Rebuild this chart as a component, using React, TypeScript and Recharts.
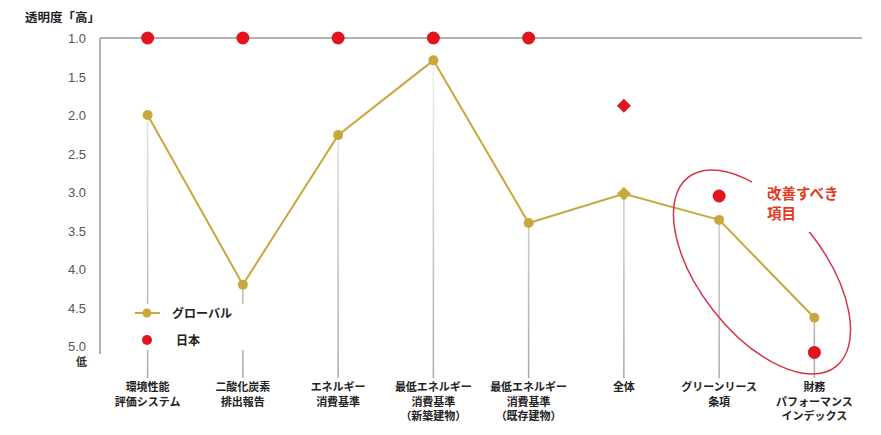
import { Line, LineChart, ReferenceLine, XAxis, YAxis } from "recharts";

const categories = [
    "環境性能\n評価システム",
    "二酸化炭素\n排出報告",
    "エネルギー\n消費基準",
    "最低エネルギー\n消費基準\n（新築建物）",
    "最低エネルギー\n消費基準\n（既存建物）",
    "全体",
    "グリーンリース\n条項",
    "財務\nパフォーマンス\nインデックス",
];
const globalScores = [2.0, 4.2, 2.26, 1.29, 3.4, 3.02, 3.36, 4.63];
const japanScores = [1.0, 1.0, 1.0, 1.0, 1.0, 1.88, 3.05, 5.08];
const yTicks = [1.0, 1.5, 2.0, 2.5, 3.0, 3.5, 4.0, 4.5, 5.0];
const overallIndex = 5;

const W = 865;
const H = 427;
const MARGIN = { top: 30, right: 11, bottom: 11, left: 32 };
const Y_AXIS_W = 60;
const X_AXIS_H = 70;
const PLOT_BOTTOM = H - MARGIN.bottom - X_AXIS_H;
const DROP_END = PLOT_BOTTOM + 24;
// half of one category slot, so points sit in the middle of each slot
const HALF_SLOT = (W - MARGIN.left - MARGIN.right - Y_AXIS_W) / categories.length / 2;

const GOLD = "#c8a83e";
const RED = "#e2141d";
const JP_FONT = "'Noto Sans CJK JP', sans-serif";

const data = categories.map((name, i) => ({
    name,
    global: globalScores[i],
    japan: japanScores[i],
}));

const GlobalDot = (props: any) => {
    const { cx, cy, index } = props;
    return (
        <g key={`gd-${index}`}>
            <line x1={cx} x2={cx} y1={cy + 5} y2={DROP_END} stroke="url(#dropFade)" strokeWidth={1.5} />
            {index === overallIndex ? (
                <polygon
                    points={`${cx},${cy - 7} ${cx + 7},${cy} ${cx},${cy + 7} ${cx - 7},${cy}`}
                    fill={GOLD}
                />
            ) : (
                <circle cx={cx} cy={cy} r={5} fill={GOLD} />
            )}
        </g>
    );
};

const JapanDot = (props: any) => {
    const { cx, cy, index } = props;
    if (index === overallIndex) {
        return (
            <polygon
                key={`jd-${index}`}
                points={`${cx},${cy - 7} ${cx + 7},${cy} ${cx},${cy + 7} ${cx - 7},${cy}`}
                fill={RED}
            />
        );
    }
    return <circle key={`jd-${index}`} cx={cx} cy={cy} r={6.5} fill={RED} />;
};

const YTick = (props: any) => {
    const { x, y, payload } = props;
    const v = payload.value as number;
    return (
        <g>
            <text x={x} y={y} dy={5} textAnchor="end" fontSize={13} fill="#555"
                fontFamily="'Liberation Sans', Arial, sans-serif">
                {v.toFixed(1)}
            </text>
            {v === 5 && (
                <text x={x + 1} y={y} dy={20} textAnchor="end" fontSize={11} fontWeight="bold"
                    fill="#333" fontFamily={JP_FONT}>
                    低
                </text>
            )}
        </g>
    );
};

const CatTick = (props: any) => {
    const { x, payload } = props;
    const lines = String(payload.value).split("\n");
    return (
        <g>
            {lines.map((t, i) => (
                <text key={i} x={x} y={PLOT_BOTTOM + 37 + i * 14.5} textAnchor="middle"
                    fontSize={11} fontWeight="bold" fill="#222" fontFamily={JP_FONT}>
                    {t}
                </text>
            ))}
        </g>
    );
};

export default function App() {
    return (
        <div style={{ position: "relative", width: W, height: H }}>
            <LineChart width={W} height={H} data={data} margin={MARGIN}>
                <defs>
                    <linearGradient id="dropFade" gradientUnits="userSpaceOnUse" x1="0" y1="60" x2="0" y2={DROP_END}>
                        <stop offset="0%" stopColor="#eeeeee" />
                        <stop offset="100%" stopColor="#a9a9a9" />
                    </linearGradient>
                </defs>
                <XAxis dataKey="name" interval={0} axisLine={false} tickLine={false}
                    padding={{ left: HALF_SLOT, right: HALF_SLOT }}
                    height={X_AXIS_H} tick={<CatTick />} />
                <YAxis type="number" domain={[1, 5.1]} reversed ticks={yTicks} interval={0}
                    width={Y_AXIS_W} tickLine={false} tickSize={6} tickMargin={8}
                    axisLine={{ stroke: "#999", strokeWidth: 1.5 }} tick={<YTick />} />
                <ReferenceLine y={1} stroke="#999" strokeWidth={1.5} />
                <Line dataKey="global" stroke={GOLD} strokeWidth={2} dot={GlobalDot}
                    activeDot={false} isAnimationActive={false} />
                <Line dataKey="japan" stroke="none" dot={JapanDot}
                    activeDot={false} isAnimationActive={false} />
            </LineChart>
            <svg width={W} height={H} style={{ position: "absolute", left: 0, top: 0, pointerEvents: "none" }}>
                <text x={17} y={14} fontSize={12.5} fontWeight="bold" fill="#222" fontFamily={JP_FONT}>
                    透明度「高」
                </text>
                {/* legend */}
                <rect x={122} y={296} width={126} height={46} fill="#fff" />
                <line x1={127} x2={152} y1={305} y2={305} stroke={GOLD} strokeWidth={2} />
                <circle cx={139} cy={305} r={4.5} fill={GOLD} />
                <text x={164} y={309.5} fontSize={12} fontWeight="bold" fill="#222" fontFamily={JP_FONT}>
                    グローバル
                </text>
                <circle cx={139} cy={332} r={5} fill={RED} />
                <text x={168} y={336.5} fontSize={12} fontWeight="bold" fill="#222" fontFamily={JP_FONT}>
                    日本
                </text>
                {/* annotation */}
                <ellipse cx={754} cy={264} rx={120} ry={62} transform="rotate(52 754 264)"
                    fill="none" stroke="#d6344c" strokeWidth={1.5} />
                <rect x={744} y={160} width={62} height={64} fill="#fff" />
                <text x={759} y={191} fontSize={14.5} fontWeight="bold" fill="#e23a22" fontFamily={JP_FONT}>
                    改善すべき
                </text>
                <text x={759} y={211} fontSize={14.5} fontWeight="bold" fill="#e23a22" fontFamily={JP_FONT}>
                    項目
                </text>
            </svg>
        </div>
    );
}
